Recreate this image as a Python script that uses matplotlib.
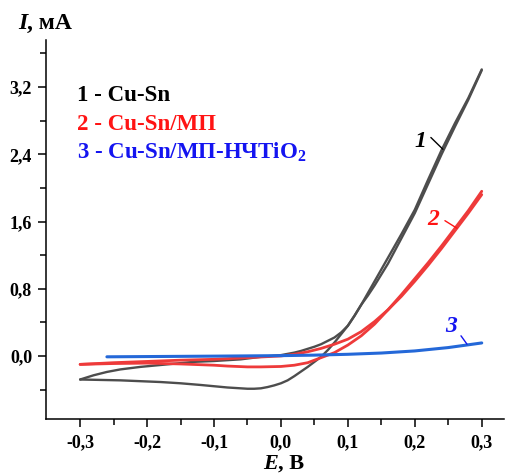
import matplotlib
matplotlib.use('Agg')
import matplotlib.pyplot as plt
from matplotlib.ticker import FixedLocator, FuncFormatter

plt.rcParams['font.family'] = ['Liberation Serif', 'DejaVu Serif']
plt.rcParams['font.weight'] = 'bold'
plt.rcParams['mathtext.fontset'] = 'custom'
plt.rcParams['mathtext.rm'] = 'Liberation Serif:bold'
plt.rcParams['mathtext.it'] = 'Liberation Serif:italic:bold'
plt.rcParams['mathtext.bf'] = 'Liberation Serif:bold'

# curve 1: Cu-Sn (forward and reverse scan)
cusn_fwd_E = [-0.30, -0.27, -0.24, -0.21, -0.18, -0.15, -0.12, -0.10, -0.08, -0.06, -0.05,
              -0.04, -0.03, -0.02, -0.01, 0.00, 0.01, 0.02, 0.03, 0.04, 0.05, 0.06, 0.07,
              0.08, 0.09, 0.10, 0.11, 0.12, 0.13, 0.14, 0.16, 0.18, 0.20, 0.22, 0.24, 0.26,
              0.28, 0.30]
cusn_fwd_I = [-0.28, -0.285, -0.29, -0.30, -0.31, -0.325, -0.345, -0.36, -0.375, -0.385, -0.39,
              -0.39, -0.385, -0.37, -0.35, -0.325, -0.29, -0.24, -0.185, -0.13, -0.07, -0.01,
              0.07, 0.16, 0.26, 0.36, 0.48, 0.61, 0.75, 0.89, 1.17, 1.45, 1.74, 2.10, 2.45,
              2.77, 3.07, 3.41]
cusn_rev_E = [0.30, 0.28, 0.26, 0.24, 0.22, 0.20, 0.18, 0.16, 0.14, 0.13, 0.12, 0.11, 0.10,
              0.09, 0.08, 0.07, 0.06, 0.05, 0.04, 0.03, 0.02, 0.00, -0.03, -0.06, -0.10,
              -0.13, -0.17, -0.21, -0.24, -0.26, -0.28, -0.30]
cusn_rev_I = [3.40, 3.05, 2.73, 2.40, 2.05, 1.70, 1.40, 1.10, 0.84, 0.72, 0.61, 0.48, 0.36,
              0.28, 0.22, 0.18, 0.14, 0.11, 0.085, 0.06, 0.04, 0.01, -0.01, -0.04, -0.06,
              -0.07, -0.10, -0.13, -0.16, -0.19, -0.23, -0.28]

# curve 2: Cu-Sn/МП
mp_fwd_E = [-0.30, -0.25, -0.20, -0.15, -0.10, -0.08, -0.05, -0.03, 0.00, 0.02, 0.04, 0.06,
            0.08, 0.10, 0.12, 0.14, 0.16, 0.18, 0.20, 0.22, 0.24, 0.26, 0.28, 0.30]
mp_fwd_I = [-0.10, -0.09, -0.085, -0.095, -0.11, -0.12, -0.13, -0.13, -0.125, -0.11, -0.08,
            -0.02, 0.04, 0.13, 0.24, 0.38, 0.55, 0.73, 0.92, 1.11, 1.31, 1.52, 1.73, 1.96]
mp_rev_E = [0.30, 0.28, 0.26, 0.24, 0.22, 0.20, 0.18, 0.16, 0.14, 0.12, 0.10, 0.08, 0.06,
            0.04, 0.02, 0.00, -0.05, -0.10, -0.15, -0.20, -0.25, -0.30]
mp_rev_I = [1.92, 1.70, 1.49, 1.28, 1.08, 0.89, 0.71, 0.55, 0.41, 0.29, 0.20, 0.14, 0.09,
            0.05, 0.02, 0.00, -0.02, -0.04, -0.05, -0.065, -0.08, -0.10]

# curve 3: Cu-Sn/МП-НЧTiO2
tio_E = [-0.26, -0.20, -0.10, 0.00, 0.05, 0.10, 0.15, 0.20, 0.25, 0.30]
tio_I = [-0.01, -0.007, -0.002, 0.004, 0.01, 0.02, 0.035, 0.06, 0.10, 0.155]

legend_labels = ['1 - Cu-Sn', '2 - Cu-Sn/МП', '3 - Cu-Sn/МП-НЧTiO$_2$']
x_ticks = [-0.3, -0.2, -0.1, 0.0, 0.1, 0.2, 0.3]
y_ticks = [0.0, 0.8, 1.6, 2.4, 3.2]

c_gray = '#4d4d4d'
c_red = '#ee3a3a'
c_blue = '#2468d8'
t_red = '#ff1414'
t_blue = '#1414f0'

fig = plt.figure(figsize=(5.05, 4.74), dpi=100)
ax = fig.add_axes([46 / 505, 1 - 419 / 474, 1 - 46 / 505 - 0.001, (419 - 40) / 474])

ax.plot(cusn_fwd_E, cusn_fwd_I, color=c_gray, lw=1.7, solid_capstyle='round')
ax.plot(cusn_rev_E, cusn_rev_I, color=c_gray, lw=1.7, solid_capstyle='round')
ax.plot(mp_fwd_E, mp_fwd_I, color=c_red, lw=2.0, solid_capstyle='round')
ax.plot(mp_rev_E, mp_rev_I, color=c_red, lw=2.0, solid_capstyle='round')
ax.plot(tio_E, tio_I, color=c_blue, lw=2.2, solid_capstyle='round')

ax.set_xlim(-0.351, 0.334)
ax.set_ylim(-0.75, 3.76)

for s in ['top', 'right']:
    ax.spines[s].set_visible(False)
for s in ['left', 'bottom']:
    ax.spines[s].set_linewidth(1.1)

fmt = FuncFormatter(lambda v, p: f'{v:.1f}'.replace('.', ',').replace('-0,0', '0,0'))
ax.xaxis.set_major_locator(FixedLocator(x_ticks))
ax.xaxis.set_minor_locator(FixedLocator([-0.25, -0.15, -0.05, 0.05, 0.15, 0.25]))
ax.yaxis.set_major_locator(FixedLocator(y_ticks))
ax.yaxis.set_minor_locator(FixedLocator([-0.4, 0.4, 1.2, 2.0, 2.8, 3.6]))
ax.xaxis.set_major_formatter(fmt)
ax.yaxis.set_major_formatter(fmt)
ax.tick_params(which='major', direction='out', length=6, width=1.1, labelsize=13, pad=5)
ax.tick_params(which='minor', direction='out', length=4, width=1.1)
ax.tick_params(axis='y', pad=4)

# legend as colored text
for i, (lab, col) in enumerate(zip(legend_labels, ['black', t_red, t_blue])):
    ax.text(77, 474 - 101 - 29 * i, lab, transform=None, color=col,
            fontsize=16.5, fontweight='bold', ha='left', va='baseline')

# curve numbers with short leader lines
labels = [('1', 0.209, 2.55, 0.224, 2.60, 0.242, 2.46, 'black'),
          ('2', 0.227, 1.62, 0.245, 1.61, 0.263, 1.52, t_red),
          ('3', 0.255, 0.345, 0.269, 0.24, 0.278, 0.14, t_blue)]
for txt, tx, ty, x0, y0, x1, y1, col in labels:
    ax.text(tx, ty, txt, ha='center', va='center', fontsize=17,
            fontstyle='italic', fontweight='bold', color=col)
    ax.annotate('', xy=(x1, y1), xytext=(x0, y0),
                arrowprops=dict(arrowstyle='-', color=col, lw=1.0, shrinkA=0, shrinkB=0))

# axis labels
yl = fig.text(18 / 505, 1 - 29 / 474, 'I', fontsize=17, fontstyle='italic', fontweight='bold',
              ha='left', va='baseline')
ax.annotate(', мА', xy=(1, 0), xycoords=yl, fontsize=17, fontweight='bold',
            ha='left', va='bottom')
xl = fig.text(263 / 505, 1 - 469 / 474, 'E', fontsize=16, fontstyle='italic', fontweight='bold',
              ha='left', va='baseline')
ax.annotate(', В', xy=(1, 0), xycoords=xl, fontsize=16, fontweight='bold',
            ha='left', va='bottom')

fig.savefig('out.png', dpi=100)
